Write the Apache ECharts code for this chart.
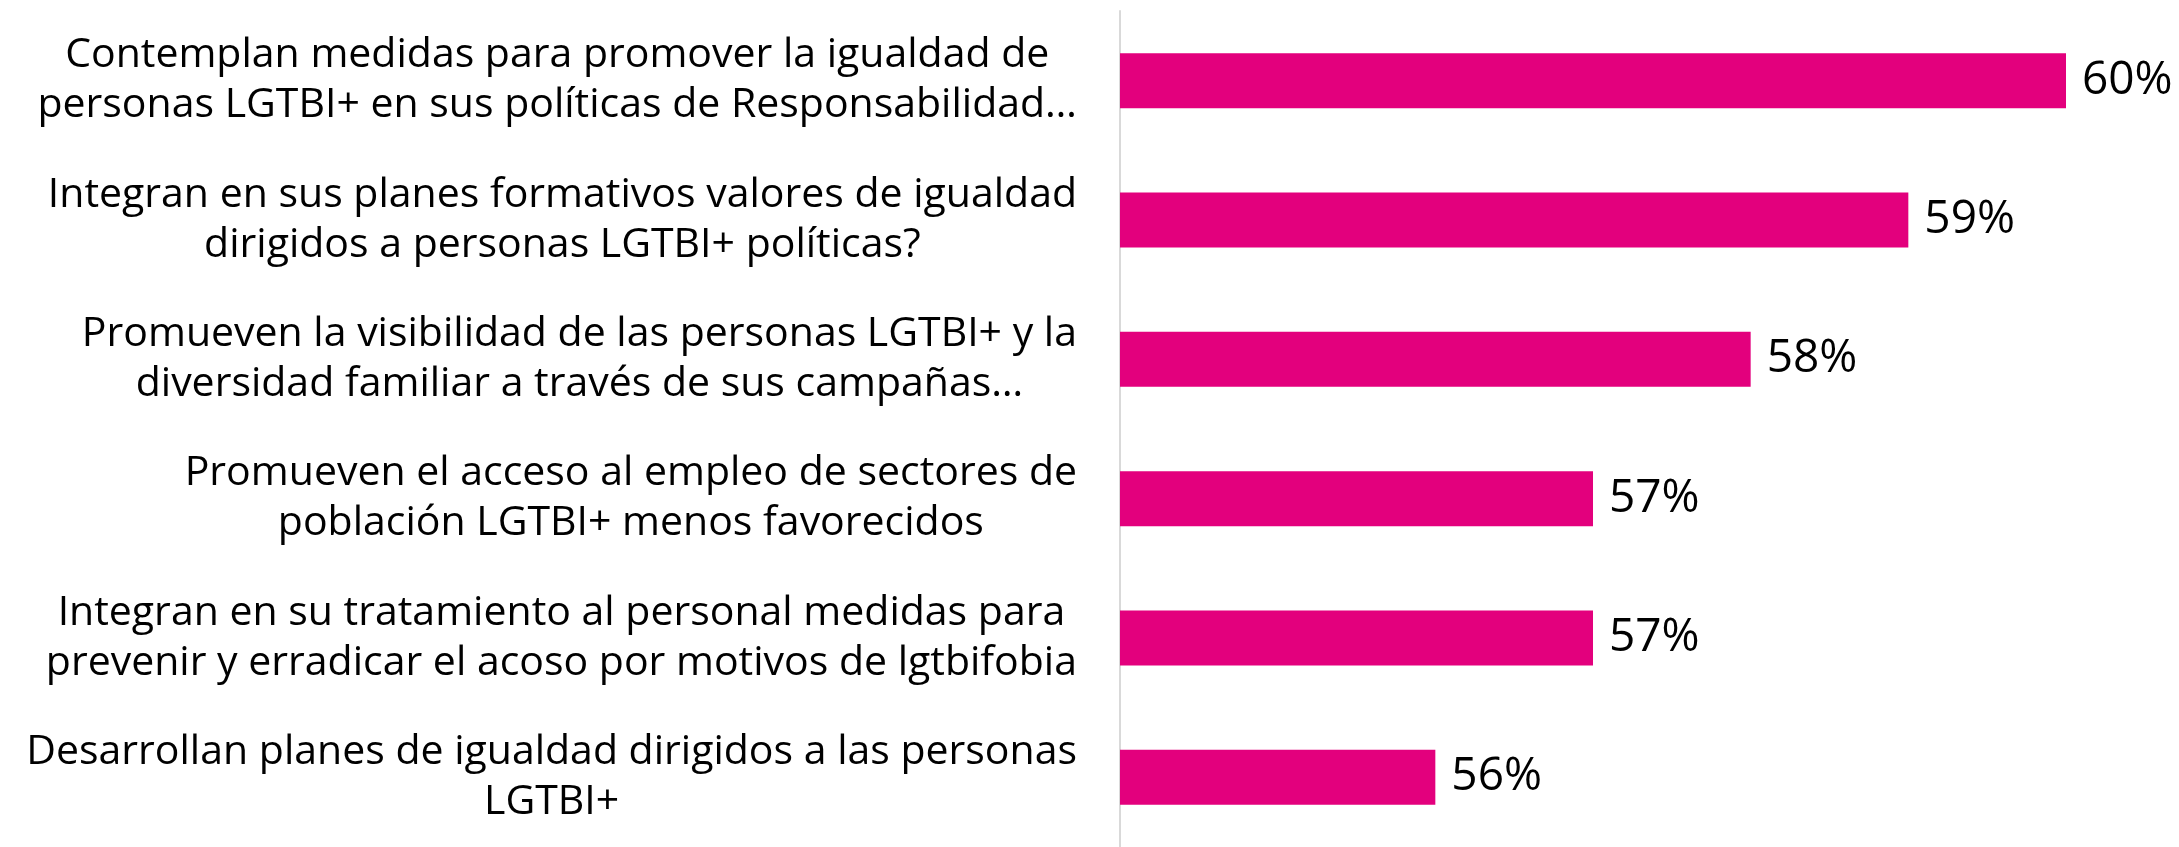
<!DOCTYPE html>
<html>
<head>
<meta charset="utf-8">
<script src="https://cdn.jsdelivr.net/npm/echarts@6/dist/echarts.min.js"></script>
<style>
  html, body { margin: 0; padding: 0; background: #fff; }
  #chart { width: 2179px; height: 847px; }
</style>
</head>
<body>
<div id="chart"></div>
<script>
// categorías (de arriba a abajo)
var categorias = [
  'Contemplan medidas para promover la igualdad de\npersonas LGTBI+ en sus políticas de Responsabilidad…',
  'Integran en sus planes formativos valores de igualdad\ndirigidos a personas LGTBI+ políticas?',
  'Promueven la visibilidad de las personas LGTBI+ y la\ndiversidad familiar a través de sus campañas…',
  'Promueven el acceso al empleo de sectores de\npoblación LGTBI+ menos favorecidos',
  'Integran en su tratamiento al personal medidas para\nprevenir y erradicar el acoso por motivos de lgtbifobia',
  'Desarrollan planes de igualdad dirigidos a las personas\nLGTBI+'
];
// porcentajes
var valores = [60, 59, 58, 57, 57, 56];

var fontFamily = '"Open Sans", "Noto Sans", sans-serif';
var magenta = '#E3007D';

var chart = echarts.init(document.getElementById('chart'));

var option = {
  backgroundColor: '#fff',
  animation: false,
  grid: {
    left: 1120,
    right: 113,
    top: 11,
    bottom: -4,
    containLabel: false
  },
  xAxis: {
    type: 'value',
    min: 54,
    max: 60,
    show: false
  },
  yAxis: {
    type: 'category',
    inverse: true,
    data: categorias,
    axisLine: {
      show: true,
      lineStyle: { color: '#d9d9d9', width: 2 }
    },
    axisTick: { show: false },
    splitLine: { show: false },
    axisLabel: {
      interval: 0,
      margin: 43,
      align: 'right',
      // cada línea centrada dentro del bloque
      formatter: function (v) {
        return v.split('\n').map(function (l) { return '{c|' + l + '}'; }).join('\n');
      },
      rich: {
        c: {
          align: 'center',
          fontSize: 41,
          lineHeight: 50,
          fontFamily: fontFamily,
          color: '#000'
        }
      }
    }
  },
  series: [{
    type: 'bar',
    data: valores,
    barWidth: 55,
    itemStyle: { color: magenta },
    label: {
      show: true,
      position: 'right',
      distance: 16,
      formatter: '{c}%',
      fontSize: 46,
      fontFamily: fontFamily,
      color: '#000'
    }
  }]
};

chart.setOption(option);
</script>
</body>
</html>
